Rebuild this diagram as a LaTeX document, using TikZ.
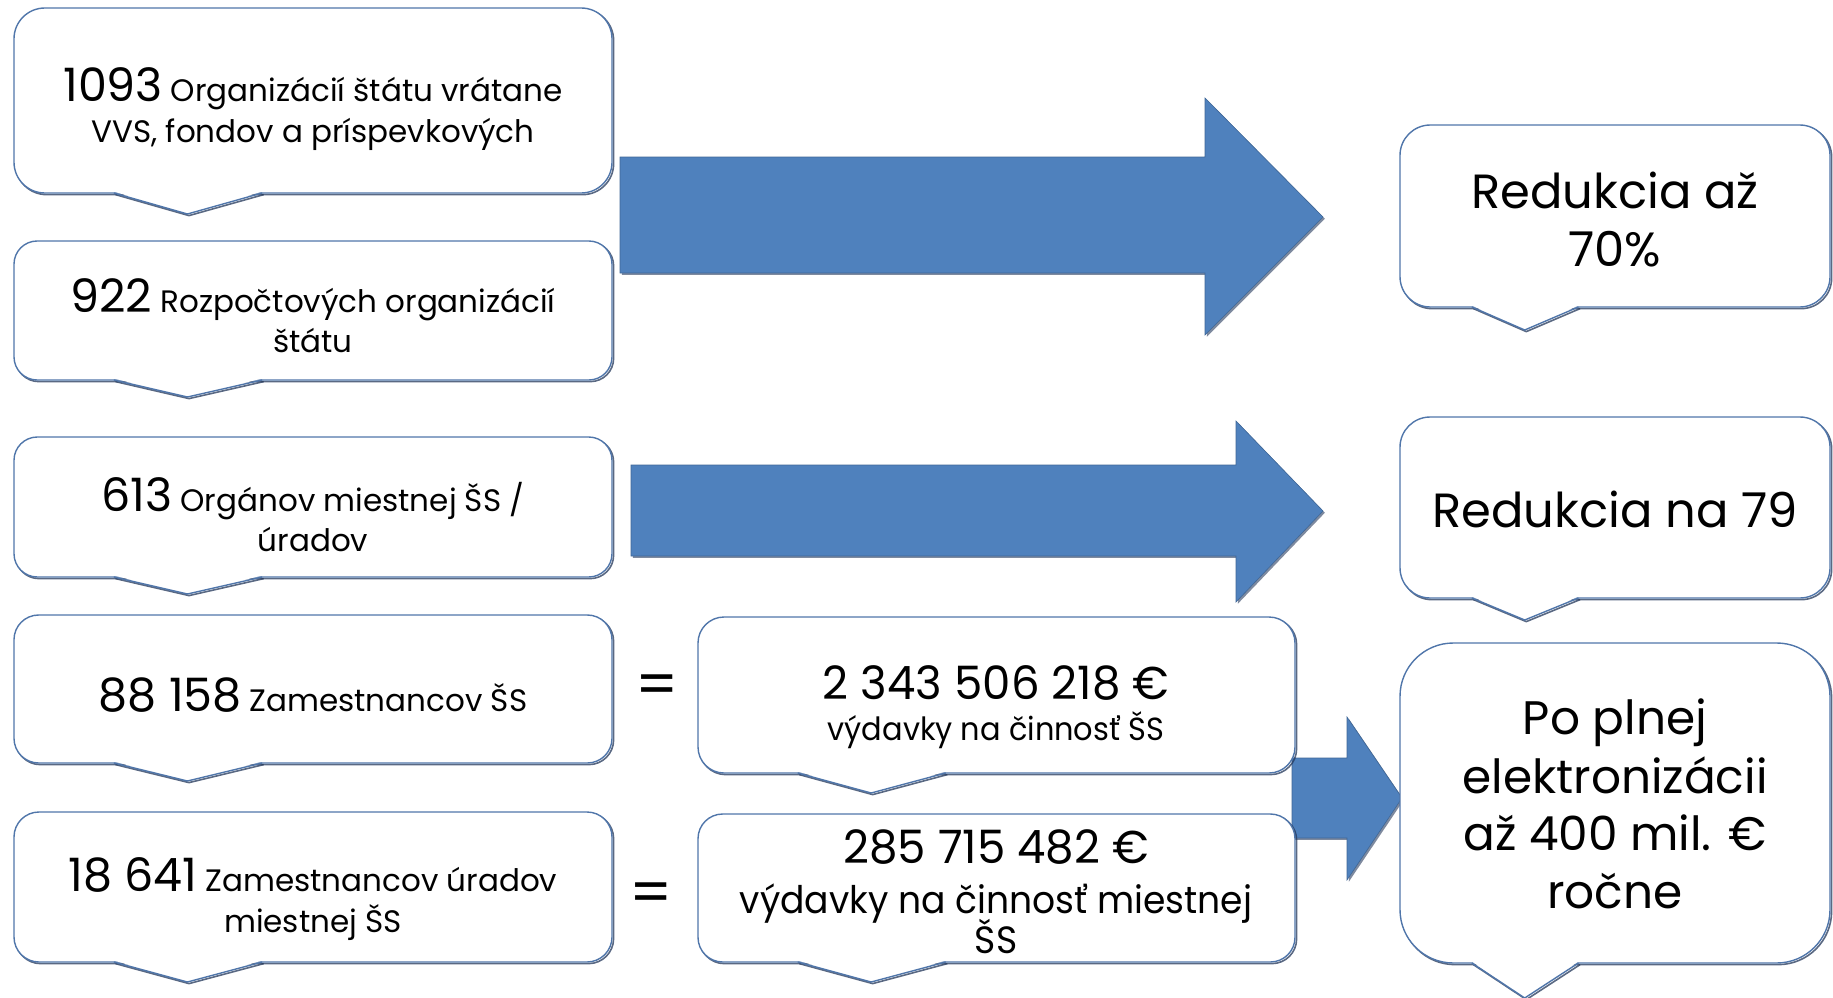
\documentclass[tikz,border=0pt]{standalone}
\usepackage{fontspec}
\setmainfont{Poppins}
\usetikzlibrary{shadows}
\definecolor{arrowblue}{RGB}{79,129,189}
\definecolor{boxedge}{RGB}{80,118,170}
\definecolor{boxshadow}{RGB}{35,55,90}
\definecolor{arrowshade}{RGB}{40,60,95}
\tikzset{
  boxline/.style={draw=boxedge, line width=1.4pt, line join=round},
  shadowline/.style={draw=boxshadow, line width=1.6pt, line join=round, opacity=0.75},
  txt/.style={inner sep=0pt, anchor=base, text=black},
  blockarrow/.style={fill=arrowblue, draw=arrowblue!80!black, line width=0.6pt,
     drop shadow={shadow xshift=1.8pt, shadow yshift=-1.8pt, opacity=0.6, fill=arrowshade}},
}
\newcommand\bign[1]{{\fontsize{46}{50}\selectfont #1}\hspace{8pt}}
\newcommand\smt[1]{{\fontsize{31}{34}\selectfont #1}}
\newcommand\callout[6]{%
  \pgfmathsetmacro\cbw{#4-#2}%
  \pgfmathsetmacro\cbh{#5-#3}%
  \pgfmathsetmacro\cbr{min(\cbw,\cbh)/6}%
  \pgfmathsetmacro\ctl{#2+0.167*\cbw}%
  \pgfmathsetmacro\ctm{#2+0.29*\cbw}%
  \pgfmathsetmacro\ctr{#2+0.415*\cbw}%
  \pgfmathsetmacro\cty{#5+#6}%
  \coordinate (#1-tip) at (\ctm,\cty);
  \begin{scope}[shift={(1.6,1.6)}]
    \draw[shadowline, rounded corners=\cbr pt] (#2,#3) rectangle (#4,#5);
    \draw[shadowline] (\ctl,#5) -- (\ctm,\cty) -- (\ctr,#5);
  \end{scope}
  \draw[boxline, fill=white, rounded corners=\cbr pt] (#2,#3) rectangle (#4,#5);
  \fill[white] (\ctl,#5-1.5) -- (\ctr,#5-1.5) -- (#1-tip) -- cycle;
  \draw[boxline] (\ctl,#5) -- (#1-tip) -- (\ctr,#5);
}
\begin{document}
\begin{tikzpicture}[x=1pt,y=-1pt]
\useasboundingbox (0,0) rectangle (1833,998);

% block arrows (behind boxes)
\fill[blockarrow] (620,157) -- (1205,157) -- (1205,98) -- (1323,217) -- (1205,335) -- (1205,273) -- (620,273) -- cycle;
\fill[blockarrow] (631,465) -- (1236,465) -- (1236,421) -- (1323,511) -- (1236,602) -- (1236,556) -- (631,556) -- cycle;
\fill[blockarrow] (1292,758) -- (1347,758) -- (1347,717) -- (1402,798) -- (1347,880) -- (1347,838) -- (1292,838) -- cycle;

% left column
\callout{c1}{14}{8}{612}{193}{21}
\callout{c2}{14}{241}{612}{380}{17}
\callout{c3}{14}{437}{612}{577}{17}
\callout{c4}{14}{615}{612}{763}{18}
\callout{c5}{14}{812}{612}{962}{20}
% middle column
\callout{ca}{698}{617}{1295}{773}{20}
\callout{cb}{698}{814}{1295}{962}{20}
% right column
\callout{r1}{1400}{125}{1830}{307}{23}
\callout{r2}{1400}{417}{1830}{598}{22}
\callout{r3}{1400}{643}{1830}{963}{35}

% texts left
\node[txt] (t1a) at (313,101) {\bign{1093}\smt{Organizácií štátu vrátane}};
\node[txt] (t1b) at (313,142) {\smt{VVS, fondov a príspevkových}};
\node[txt] (t2a) at (313,312) {\bign{922}\smt{Rozpočtových organizácií}};
\node[txt] (t2b) at (313,352) {\smt{štátu}};
\node[txt] (t3a) at (313,511) {\bign{613}\smt{Orgánov miestnej ŠS /}};
\node[txt] (t3b) at (313,551) {\smt{úradov}};
\node[txt] (t4a) at (313,711) {\bign{88 158}\smt{Zamestnancov ŠS}};
\node[txt] (t5a) at (313,891) {\bign{18 641}\smt{Zamestnancov úradov}};
\node[txt] (t5b) at (313,932) {\smt{miestnej ŠS}};

% equals
\node[txt, anchor=center] (eq1) at (657,690) {\fontsize{60}{60}\selectfont =};
\node[txt, anchor=center] (eq2) at (651,898) {\fontsize{60}{60}\selectfont =};

% middle texts
\node[txt] (tas) at (996,699) {\scalebox{0.98}[1]{\fontsize{46}{50}\selectfont 2 343 506 218 €}};
\node[txt] (tat) at (996,740) {\scalebox{0.95}[1]{\fontsize{32}{34}\selectfont výdavky na činnosť ŠS}};
\node[txt] (tbs) at (996,863) {\scalebox{0.98}[1]{\fontsize{46}{50}\selectfont 285 715 482 €}};
\node[txt] (tbt) at (996,913) {\scalebox{0.95}[1]{\fontsize{38}{40}\selectfont výdavky na činnosť miestnej}};
\node[txt] (tbu) at (996,953) {\scalebox{0.95}[1]{\fontsize{38}{40}\selectfont ŠS}};

% right texts
\node[txt] (r1a) at (1615,208) {\fontsize{48}{52}\selectfont Redukcia až};
\node[txt] (r1b) at (1615,266) {\fontsize{48}{52}\selectfont 70\%};
\node[txt] (r2a) at (1615,527) {\fontsize{48}{52}\selectfont Redukcia na 79};
\node[txt] (r3a) at (1615,734) {\fontsize{47}{52}\selectfont Po plnej};
\node[txt] (r3b) at (1615,793) {\fontsize{47}{52}\selectfont elektronizácii};
\node[txt] (r3c) at (1615,850) {\fontsize{47}{52}\selectfont až 400 mil. €};
\node[txt] (r3d) at (1615,908) {\fontsize{47}{52}\selectfont ročne};
\end{tikzpicture}
\end{document}
